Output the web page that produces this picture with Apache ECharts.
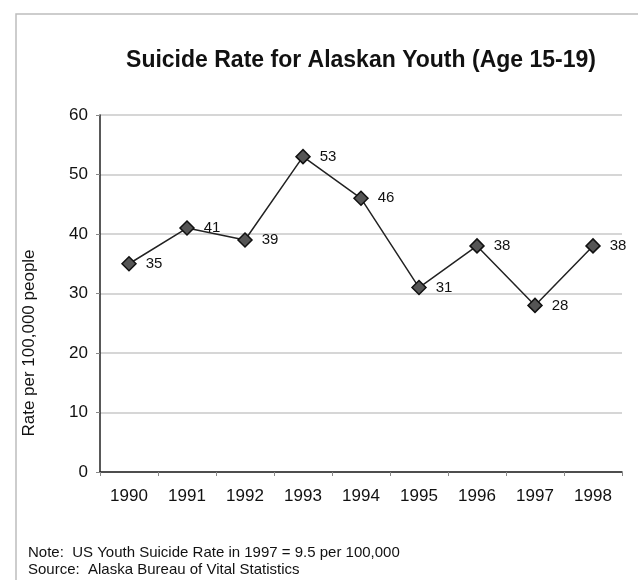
<!DOCTYPE html>
<html>
<head>
<meta charset="utf-8">
<script src="https://cdn.jsdelivr.net/npm/echarts@6/dist/echarts.min.js"></script>
<style>
  html, body { margin: 0; padding: 0; background: #ffffff; }
  #chart { width: 638px; height: 580px; }
</style>
</head>
<body>
<div id="chart"></div>
<script>
// Suicide rate per 100,000 Alaskan youth aged 15-19
const years = ['1990', '1991', '1992', '1993', '1994', '1995', '1996', '1997', '1998'];
const rates = [35, 41, 39, 53, 46, 31, 38, 28, 38];
const yTicks = { min: 0, max: 60, interval: 10 };

const font = '"Liberation Sans", Arial, sans-serif';
const chart = echarts.init(document.getElementById('chart'));

chart.setOption({
  animation: false,
  backgroundColor: '#ffffff',
  title: {
    text: 'Suicide Rate for Alaskan Youth (Age 15-19)',
    left: 356,
    top: 44,
    textAlign: 'center',
    textStyle: { fontFamily: font, fontSize: 23, fontWeight: 'bold', color: '#111' }
  },
  grid: { left: 100, right: 16, top: 115, bottom: 108 },
  xAxis: {
    type: 'category',
    data: years,
    boundaryGap: true,
    axisLine: { lineStyle: { color: '#222', width: 1.5 } },
    axisTick: { show: true, length: 4, lineStyle: { color: '#888' } },
    axisLabel: { margin: 16, fontFamily: font, fontSize: 17, color: '#111' }
  },
  yAxis: {
    type: 'value',
    min: yTicks.min,
    max: yTicks.max,
    interval: yTicks.interval,
    axisLine: { show: true, lineStyle: { color: '#222', width: 1.5 } },
    axisTick: { show: true, length: 4, inside: false, lineStyle: { color: '#888' } },
    axisLabel: { margin: 12, fontFamily: font, fontSize: 17, color: '#111' },
    splitLine: { lineStyle: { color: '#c8c8c8', width: 1.5 } }
  },
  series: [{
    type: 'line',
    data: rates,
    symbol: 'diamond',
    symbolSize: 14,
    lineStyle: { color: '#222', width: 1.5 },
    itemStyle: { color: '#555', borderColor: '#111', borderWidth: 1.5 },
    label: {
      show: true,
      position: 'right',
      distance: 9,
      fontFamily: font,
      fontSize: 15,
      color: '#111'
    }
  }],
  graphic: [
    {
      type: 'rect',
      shape: { x: 16, y: 14, width: 640, height: 600 },
      style: { fill: 'none', stroke: '#bdbdbd', lineWidth: 1.5 },
      z: -1
    },
    {
      type: 'text',
      x: 29,
      y: 343,
      rotation: Math.PI / 2,
      style: {
        text: 'Rate per 100,000 people',
        font: '17px ' + font,
        fill: '#111',
        textAlign: 'center',
        textVerticalAlign: 'middle'
      }
    },
    {
      type: 'text',
      x: 28,
      y: 553,
      style: {
        text: 'Note:  US Youth Suicide Rate in 1997 = 9.5 per 100,000',
        font: '15px ' + font,
        fill: '#111',
        textVerticalAlign: 'middle'
      }
    },
    {
      type: 'text',
      x: 28,
      y: 570,
      style: {
        text: 'Source:  Alaska Bureau of Vital Statistics',
        font: '15px ' + font,
        fill: '#111',
        textVerticalAlign: 'middle'
      }
    }
  ]
});
</script>
</body>
</html>
